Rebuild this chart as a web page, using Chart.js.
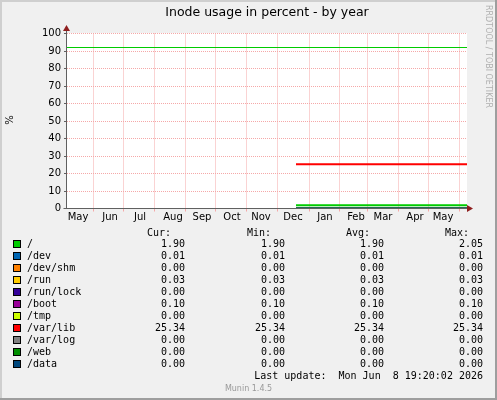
<!DOCTYPE html>
<html>
<head>
<meta charset="utf-8">
<script src="https://cdn.jsdelivr.net/npm/chart.js@4.4.0/dist/chart.umd.min.js"></script>
<style>
  html, body { margin: 0; padding: 0; background: #f0f0f0; }
  #wrap { width: 497px; height: 400px; }
</style>
</head>
<body>
<div id="wrap"><canvas id="inodes" width="497" height="400"></canvas></div>
<script>
// values (one year, x in days from the left edge)
const fsNames = ['/', '/dev', '/dev/shm', '/run', '/run/lock', '/boot', '/tmp', '/var/lib', '/var/log', '/web', '/data'];
const fsColors = ['#00cc00', '#0066b3', '#ff8000', '#ffcc00', '#330099', '#990099', '#ccff00', '#ff0000', '#808080', '#008f00', '#00487d'];
const curVals = [1.90, 0.01, 0.00, 0.03, 0.00, 0.10, 0.00, 25.34, 0.00, 0.00, 0.00];
const minVals = [1.90, 0.01, 0.00, 0.03, 0.00, 0.10, 0.00, 25.34, 0.00, 0.00, 0.00];
const avgVals = [1.90, 0.01, 0.00, 0.03, 0.00, 0.10, 0.00, 25.34, 0.00, 0.00, 0.00];
const maxVals = [2.05, 0.01, 0.00, 0.03, 0.00, 0.10, 0.00, 25.34, 0.00, 0.00, 0.00];
const seriesDays = [229, 400];
const warnLevel = 92;
const warnDays = [0, 400];

const monthDays = [26, 56, 87, 118, 148, 179, 210, 242, 272, 300, 331, 361, 392];
const monthLabelDays = [11, 43, 73, 106, 135, 165, 194, 226, 258, 289, 316, 348, 376];
const monthLabels = ['May', 'Jun', 'Jul', 'Aug', 'Sep', 'Oct', 'Nov', 'Dec', 'Jan', 'Feb', 'Mar', 'Apr', 'May'];

const titleText = 'Inode usage in percent - by year';
const lastUpdate = 'Last update:  Mon Jun  8 19:20:02 2026';

const SANS = '"DejaVu Sans", sans-serif';
const MONO = '"DejaVu Sans Mono", monospace';
const MAJOR = '#f5a8a8';
const MINOR = '#c8c8c8';

const datasets = [];
fsNames.forEach((name, i) => {
	datasets.push({
		label: name,
		data: seriesDays.map((d) => ({ x: d, y: curVals[i] })),
		borderColor: fsColors[i],
		borderWidth: 2,
		pointRadius: 0,
		order: -i,
	});
});
datasets.push({
	label: 'warning',
	data: warnDays.map((d) => ({ x: d, y: warnLevel })),
	borderColor: '#00cc00',
	borderWidth: 1,
	pointRadius: 0,
	order: 5,
});

const muninFrame = {
	id: 'muninFrame',
	beforeDraw(chart) {
		const ctx = chart.ctx;
		const a = chart.chartArea;
		const top = Math.floor(a.top);
		const bottom = Math.floor(a.bottom);
		ctx.save();
		ctx.fillStyle = '#f0f0f0';
		ctx.fillRect(0, 0, chart.width, chart.height);
		ctx.fillStyle = '#ffffff';
		ctx.fillRect(a.left, top, a.right - a.left, bottom - top);
		// 3d frame
		ctx.fillStyle = '#cfcfcf';
		ctx.fillRect(0, 0, chart.width, 2);
		ctx.fillRect(0, 0, 2, chart.height);
		ctx.fillStyle = '#9e9e9e';
		ctx.fillRect(0, chart.height - 2, chart.width, 2);
		ctx.fillRect(chart.width - 2, 0, 2, chart.height);
		ctx.restore();
	},
	afterDraw(chart) {
		const ctx = chart.ctx;
		const a = chart.chartArea;
		const ax = Math.floor(a.left) - 0.5;
		const ay = Math.floor(a.bottom) + 0.5;
		const top = Math.floor(a.top);
		ctx.save();
		// axes
		ctx.strokeStyle = '#606060';
		ctx.lineWidth = 1;
		ctx.beginPath();
		ctx.moveTo(ax, ay);
		ctx.lineTo(ax, top - 4);
		ctx.moveTo(ax - 3, ay);
		ctx.lineTo(a.right + 1, ay);
		ctx.stroke();
		// arrows
		ctx.fillStyle = '#8f1f1f';
		ctx.beginPath();
		ctx.moveTo(ax, top - 8);
		ctx.lineTo(ax - 3.5, top - 2);
		ctx.lineTo(ax + 3.5, top - 2);
		ctx.closePath();
		ctx.fill();
		ctx.beginPath();
		ctx.moveTo(a.right + 6, ay);
		ctx.lineTo(a.right, ay - 3.5);
		ctx.lineTo(a.right, ay + 3.5);
		ctx.closePath();
		ctx.fill();

		// title
		ctx.fillStyle = '#000';
		ctx.font = '12.5px ' + SANS;
		ctx.textAlign = 'center';
		ctx.textBaseline = 'middle';
		ctx.fillText(titleText, (a.left + a.right) / 2, 13);

		// y axis title
		ctx.save();
		ctx.translate(10, 120);
		ctx.rotate(-Math.PI / 2);
		ctx.font = '10px ' + SANS;
		ctx.fillText('%', 0, 0);
		ctx.restore();

		// watermark
		ctx.save();
		ctx.translate(488, 5);
		ctx.rotate(Math.PI / 2);
		ctx.font = '8px ' + SANS;
		ctx.fillStyle = '#b0b0b0';
		ctx.textAlign = 'left';
		ctx.fillText('RRDTOOL / TOBI OETIKER', 0, 0);
		ctx.restore();

		// legend table
		ctx.font = '10px ' + MONO;
		ctx.fillStyle = '#000';
		ctx.textAlign = 'right';
		ctx.fillText('Cur:', 171, 233);
		ctx.fillText('Min:', 271, 233);
		ctx.fillText('Avg:', 370, 233);
		ctx.fillText('Max:', 469, 233);
		fsNames.forEach((name, i) => {
			const y = 244 + i * 12;
			ctx.fillStyle = fsColors[i];
			ctx.fillRect(13, y - 4, 8, 8);
			ctx.strokeStyle = '#000';
			ctx.strokeRect(13.5, y - 3.5, 7, 7);
			ctx.fillStyle = '#000';
			ctx.textAlign = 'left';
			ctx.fillText(name, 27, y);
			ctx.textAlign = 'right';
			ctx.fillText(curVals[i].toFixed(2), 185, y);
			ctx.fillText(minVals[i].toFixed(2), 285, y);
			ctx.fillText(avgVals[i].toFixed(2), 384, y);
			ctx.fillText(maxVals[i].toFixed(2), 483, y);
		});
		ctx.fillText(lastUpdate, 483, 376);

		ctx.font = '8px ' + SANS;
		ctx.fillStyle = '#999';
		ctx.textAlign = 'center';
		ctx.fillText('Munin 1.4.5', 248.5, 389);
		ctx.restore();
	},
};

const chart = new Chart(document.getElementById('inodes'), {
	type: 'line',
	data: { datasets: datasets },
	options: {
		responsive: false,
		animation: false,
		layout: { padding: { left: 0, right: 30, top: 33.5, bottom: 0 } },
		plugins: { legend: { display: false }, tooltip: { enabled: false } },
		scales: {
			x: {
				type: 'linear',
				min: 0,
				max: 400,
				position: 'bottom',
				afterBuildTicks: (scale) => {
					scale.ticks = monthDays.map((d) => ({ value: d }));
				},
				afterFit: (scale) => {
					scale.height = 0;
				},
				ticks: { display: false },
				grid: { color: MAJOR, tickColor: MAJOR, tickLength: 3, lineWidth: 1 },
				border: { display: false, dash: [1, 1] },
			},
			x2: {
				type: 'linear',
				min: 0,
				max: 400,
				position: 'bottom',
				afterBuildTicks: (scale) => {
					scale.ticks = monthLabelDays.map((d) => ({ value: d }));
				},
				afterFit: (scale) => {
					scale.height = 191.5;
				},
				ticks: {
					autoSkip: false,
					maxRotation: 0,
					padding: 2.5,
					color: '#000',
					font: { family: SANS, size: 10 },
					callback: (v, i) => monthLabels[i],
				},
				grid: { display: false, drawTicks: false },
				border: { display: false },
			},
			y: {
				min: 0,
				max: 100,
				afterFit: (scale) => {
					scale.width = 67;
				},
				ticks: {
					stepSize: 5,
					padding: 3,
					color: '#000',
					font: { family: SANS, size: 10 },
					callback: (v) => (v % 10 === 0 ? v : ''),
				},
				grid: {
					color: (c) => (c.tick.value % 10 === 0 ? MAJOR : MINOR),
					tickColor: (c) => (c.tick.value % 10 === 0 ? '#606060' : 'rgba(0,0,0,0)'),
					tickLength: 3,
					lineWidth: 1,
				},
				border: { display: false, dash: [1, 1] },
			},
		},
	},
	plugins: [muninFrame],
});
</script>
</body>
</html>
